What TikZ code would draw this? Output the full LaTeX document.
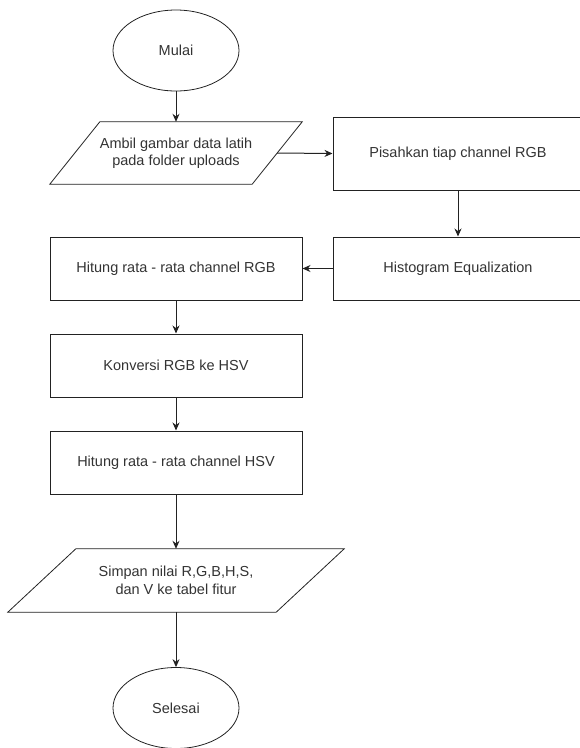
\documentclass[tikz,border=0pt]{standalone}
\usepackage{fontspec}
\setmainfont{Liberation Sans}
\usetikzlibrary{shapes.geometric,arrows.meta}
\definecolor{txt}{HTML}{333333}
\definecolor{ln}{HTML}{222222}
\begin{document}
\begin{tikzpicture}[x=1pt,y=-1pt,
  every node/.style={font=\fontsize{14.5}{17.5}\selectfont, text=txt, align=center, inner sep=0pt},
  procbox/.style={draw=ln, line width=1pt, rectangle, minimum height=63pt},
  termnode/.style={draw=ln, line width=0.8pt, ellipse, minimum width=126pt, minimum height=81pt},
  iobox/.style={rectangle, minimum height=62pt},
  conn/.style={draw=ln, line width=1pt, -{Stealth[length=8pt,width=7pt]}},
  shapeline/.style={draw=ln, line width=0.8pt}
]
\useasboundingbox (0,0) rectangle (580,748);
\clip (0,0) rectangle (580,748);

\node[termnode] (mulai) at (176,50.5) {Mulai};
\node[iobox, minimum width=202pt] (ambil) at (176,153) {Ambil gambar data latih\\pada folder uploads};
\draw[shapeline] ([xshift=25pt]ambil.north west) -- ([xshift=25pt]ambil.north east)
  -- ([xshift=-25pt]ambil.south east) -- ([xshift=-25pt]ambil.south west) -- cycle;
\node[procbox, minimum width=250pt, minimum height=73pt] (pisah) at (458,153.5) {Pisahkan tiap channel RGB};
\node[procbox, minimum width=250pt] (hist) at (458,268.5) {Histogram Equalization};
\node[procbox, minimum width=252pt] (rgb) at (176,268.5) {Hitung rata - rata channel RGB};
\node[procbox, minimum width=252pt] (konv) at (176,365.5) {Konversi RGB ke HSV};
\node[procbox, minimum width=252pt] (hsv) at (176,462.5) {Hitung rata - rata channel HSV};
\node[iobox, minimum width=268pt, minimum height=63pt] (simpan) at (176,580.5) {Simpan nilai R,G,B,H,S,\\ dan V ke tabel fitur};
\draw[shapeline] ([xshift=34pt]simpan.north west) -- ([xshift=34pt]simpan.north east)
  -- ([xshift=-34pt]simpan.south east) -- ([xshift=-34pt]simpan.south west) -- cycle;
\node[termnode] (selesai) at (176,708) {Selesai};

\draw[conn] (mulai) -- (ambil.north);
\draw[conn] (ambil.east) -- (pisah.west);
\draw[conn] (pisah) -- (hist);
\draw[conn] (hist) -- (rgb);
\draw[conn] (rgb) -- (konv);
\draw[conn] (konv) -- (hsv);
\draw[conn] (hsv) -- (simpan.north);
\draw[conn] (simpan.south) -- (selesai);
\end{tikzpicture}
\end{document}
